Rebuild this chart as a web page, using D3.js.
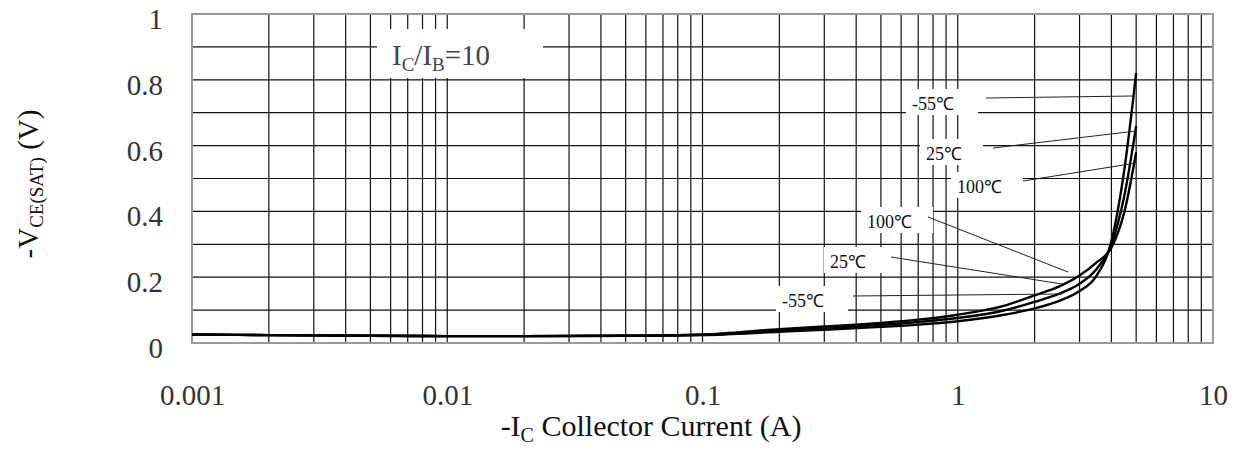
<!DOCTYPE html>
<html>
<head>
<meta charset="utf-8">
<script src="https://cdn.jsdelivr.net/npm/d3@7"></script>
<style>
html,body{margin:0;padding:0;background:#fff;}
svg{display:block;}
text{font-family:"Liberation Serif","Times New Roman",serif;}
</style>
</head>
<body>
<svg id="chart" width="1240" height="461"></svg>
<script>
// ---- data ----
const currents = [0.001, 0.002, 0.005, 0.01, 0.02, 0.05, 0.1, 0.2, 0.3, 0.5, 0.7, 1, 1.5, 2, 2.5, 3, 3.5, 4, 4.5, 5];
const vMinus55 = [0.026, 0.024, 0.022, 0.021, 0.021, 0.022, 0.024, 0.034, 0.040, 0.049, 0.056, 0.066, 0.085, 0.105, 0.128, 0.158, 0.205, 0.31, 0.53, 0.82];
const v25      = [0.026, 0.024, 0.022, 0.021, 0.021, 0.022, 0.025, 0.038, 0.045, 0.055, 0.064, 0.076, 0.098, 0.125, 0.150, 0.180, 0.225, 0.30, 0.45, 0.66];
const v100     = [0.026, 0.024, 0.022, 0.021, 0.021, 0.022, 0.026, 0.042, 0.050, 0.061, 0.071, 0.086, 0.112, 0.145, 0.172, 0.205, 0.245, 0.29, 0.40, 0.58];
const xTickValues = [0.001, 0.01, 0.1, 1, 10];
const xTickLabels = ["0.001", "0.01", "0.1", "1", "10"];
const yTickValues = [0, 0.2, 0.4, 0.6, 0.8, 1];
const yTickLabels = ["0", "0.2", "0.4", "0.6", "0.8", "1"];
const tempLabels = ["-55℃", "25℃", "100℃"];

// ---- layout ----
const svg = d3.select("#chart");
const L = 192, R = 1213, T = 14, B = 343;
const x = d3.scaleLog().domain([0.001, 10]).range([L, R]);
const y = d3.scaleLinear().domain([0, 1]).range([B, T]);

// grid
const grid = svg.append("g");
grid.selectAll("line.v").data(x.ticks()).join("line")
  .attr("x1", d => x(d)).attr("x2", d => x(d)).attr("y1", T).attr("y2", B)
  .attr("stroke", "#111").attr("stroke-width", 1.2);
grid.selectAll("line.h").data(d3.range(0, 11).map(i => i / 10)).join("line")
  .attr("y1", d => y(d)).attr("y2", d => y(d)).attr("x1", L).attr("x2", R)
  .attr("stroke", "#111").attr("stroke-width", 1.2);

// white label boxes that break the grid
const boxes = svg.append("g");
function box(x0, y0, x1, y1) {
  boxes.append("rect").attr("x", x0).attr("y", y0).attr("width", x1 - x0).attr("height", y1 - y0).attr("fill", "#fff");
}
box(377, 29, 543, 78);

// border
svg.append("rect").attr("x", L).attr("y", T).attr("width", R - L).attr("height", B - T)
  .attr("fill", "none").attr("stroke", "#999").attr("stroke-width", 2);

// temperature labels
const annots = [
  {t: 0, lx: 912, ly: 110, sx: 986, sy: 98, ex: 1133, ey: 96},
  {t: 1, lx: 926, ly: 160, sx: 993, sy: 148, ex: 1136, ey: 131},
  {t: 2, lx: 957, ly: 193, sx: 1023, sy: 181, ex: 1136, ey: 163},
  {t: 2, lx: 867, ly: 228, sx: 928, sy: 217, ex: 1068, ey: 272},
  {t: 1, lx: 830, ly: 268, sx: 891, sy: 257, ex: 1062, ey: 284},
  {t: 0, lx: 782, ly: 307, sx: 853, sy: 296, ex: 1062, ey: 294}
];
const widths = {0: 46, 1: 37, 2: 46};
annots.forEach(a => box(a.lx - 6, a.ly - 21, a.lx + widths[a.t] + 20, a.ly + 5));

// curves
const line = d3.line().x((d, i) => x(currents[i])).y(d => y(d)).curve(d3.curveMonotoneX);
[vMinus55, v25, v100].forEach(s => {
  svg.append("path").attr("d", line(s)).attr("fill", "none")
    .attr("stroke", "#000").attr("stroke-width", 2.4);
});

// leader lines and labels
annots.forEach(a => {
  svg.append("line").attr("x1", a.sx).attr("y1", a.sy).attr("x2", a.ex).attr("y2", a.ey)
    .attr("stroke", "#222").attr("stroke-width", 1);
  svg.append("text").attr("x", a.lx).attr("y", a.ly)
    .attr("font-size", 18).attr("fill", "#111")
    .text(tempLabels[a.t]);
});

// IC/IB label
const ic = svg.append("text").attr("x", 392).attr("y", 65).attr("font-size", 29).attr("fill", "#444");
ic.append("tspan").text("I");
ic.append("tspan").attr("font-size", 19).attr("dy", 6).text("C");
ic.append("tspan").attr("dy", -6).text("/I");
ic.append("tspan").attr("font-size", 19).attr("dy", 6).text("B");
ic.append("tspan").attr("dy", -6).text("=10");

// axes
const xAxis = d3.axisBottom(x).tickValues(xTickValues)
  .tickFormat((d, i) => xTickLabels[i]).tickSize(0).tickPadding(0);
const gx = svg.append("g").attr("transform", `translate(0,${B})`).call(xAxis);
gx.select(".domain").remove();
gx.selectAll("text").attr("font-size", 29).attr("fill", "#333")
  .attr("font-family", '"Liberation Serif", serif').attr("dy", null).attr("y", 62);

const yAxis = d3.axisLeft(y).tickValues(yTickValues)
  .tickFormat((d, i) => yTickLabels[i]).tickSize(0).tickPadding(0);
const gy = svg.append("g").attr("transform", `translate(${L},0)`).call(yAxis);
gy.select(".domain").remove();
gy.selectAll("text").attr("font-size", 29).attr("fill", "#333")
  .attr("font-family", '"Liberation Serif", serif').attr("x", -29).attr("dy", "0.5em");

// axis titles
const xt = svg.append("text").attr("x", 651).attr("y", 436).attr("text-anchor", "middle")
  .attr("font-size", 30).attr("fill", "#111");
xt.append("tspan").text("-I");
xt.append("tspan").attr("font-size", 20).attr("dy", 6).text("C");
xt.append("tspan").attr("dy", -6).text(" Collector Current (A)");

const yt = svg.append("text").attr("transform", "translate(38,184) rotate(-90)")
  .attr("text-anchor", "middle").attr("font-size", 29).attr("fill", "#111");
yt.append("tspan").text("-V");
yt.append("tspan").attr("font-size", 19).attr("dy", 5).text("CE(SAT)");
yt.append("tspan").attr("dy", -5).text(" (V)");
</script>
</body>
</html>
